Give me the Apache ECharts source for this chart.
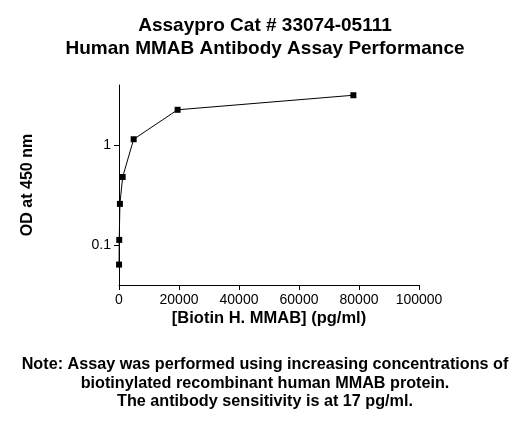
<!DOCTYPE html>
<html>
<head>
<meta charset="utf-8">
<script src="https://cdn.jsdelivr.net/npm/echarts@6/dist/echarts.min.js"></script>
<style>html,body{margin:0;padding:0;background:#fff;}#c{width:530px;height:425px;}</style>
</head>
<body>
<div id="c"></div>
<script>
const titleLines = ['Assaypro Cat # 33074-05111', 'Human MMAB Antibody Assay Performance'];
const noteLines = ['Note: Assay was performed using increasing concentrations of', 'biotinylated recombinant human MMAB protein.', 'The antibody sensitivity is at 17 pg/ml.'];
const xName = '[Biotin H. MMAB] (pg/ml)';
const yName = 'OD at 450 nm';
const concentrations = [19.07, 76.29, 305.2, 1220.7, 4882.8, 19531.25, 78125];
const odValues = [0.064, 0.113, 0.259, 0.481, 1.147, 2.26, 3.16];
const yTickValues = [0.1, 1];
const xTickInterval = 20000;

const font = 'Liberation Sans, Arial, sans-serif';
const chart = echarts.init(document.getElementById('c'), null, {renderer: 'canvas'});
const titleY = [26, 49];
const noteY = [365, 384, 402];
const graphics = [];
titleLines.forEach((t, i) => graphics.push({type: 'text', x: 265, y: titleY[i],
  style: {text: t, font: 'bold 19px ' + font, fill: '#000', textAlign: 'center', textVerticalAlign: 'middle'}}));
noteLines.forEach((t, i) => graphics.push({type: 'text', x: 265, y: noteY[i],
  style: {text: t, font: 'bold 16.2px ' + font, fill: '#000', textAlign: 'center', textVerticalAlign: 'middle'}}));
chart.setOption({
  animation: false,
  backgroundColor: '#fff',
  graphic: graphics,
  grid: {left: 119, right: 111, top: 85, bottom: 140, containLabel: false},
  xAxis: {
    type: 'value', min: 0, max: 100000, interval: xTickInterval,
    name: xName, nameLocation: 'middle', nameGap: 25,
    nameTextStyle: {fontFamily: font, fontWeight: 'bold', fontSize: 16.5, color: '#000'},
    axisLine: {lineStyle: {color: '#000', width: 1}},
    axisTick: {show: true, length: 5, lineStyle: {color: '#000'}},
    axisLabel: {fontFamily: font, fontSize: 14, color: '#000', margin: 8, formatter: v => String(v)},
    splitLine: {show: false}
  },
  yAxis: {
    type: 'log', logBase: 10, min: 0.04, max: 4,
    name: yName, nameLocation: 'middle', nameGap: 83, nameRotate: 90,
    nameTextStyle: {fontFamily: font, fontWeight: 'bold', fontSize: 16, color: '#000'},
    axisLine: {show: true, lineStyle: {color: '#000', width: 1}},
    axisTick: {show: true, length: 5, lineStyle: {color: '#000'}, customValues: yTickValues},
    axisLabel: {fontFamily: font, fontSize: 14, color: '#000', margin: 8, customValues: yTickValues,
      formatter: v => String(v)},
    splitLine: {show: false}
  },
  series: [{
    type: 'line',
    data: concentrations.map((c, i) => [c, odValues[i]]),
    symbol: 'rect', symbolSize: 6,
    itemStyle: {color: '#000'},
    lineStyle: {color: '#000', width: 1}
  }]
});
</script>
</body>
</html>
